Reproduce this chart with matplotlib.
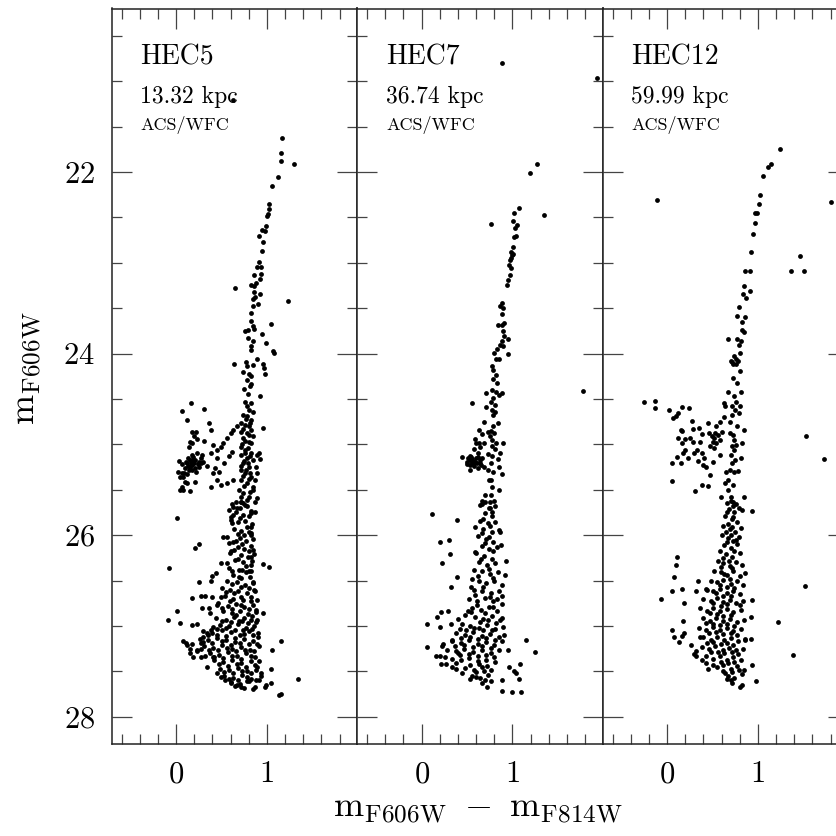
import numpy as np
import matplotlib
matplotlib.use("Agg")
import matplotlib.pyplot as plt
from matplotlib.ticker import FixedLocator, MultipleLocator

plt.rcParams['font.family'] = ['cmr10', 'DejaVu Serif']
plt.rcParams['mathtext.fontset'] = 'cm'
plt.rcParams['axes.formatter.use_mathtext'] = True

# ---------------- data (colour m606-m814, magnitude m606) ----------------
panel_names = ["HEC5", "HEC7", "HEC12"]
panel_dist = ["13.32 kpc", "36.74 kpc", "59.99 kpc"]
panel_inst = ["ACS/WFC", "ACS/WFC", "ACS/WFC"]
xtick_major = [0, 1]
ytick_major = [22, 24, 26, 28]

hec5_rgb = [
    (0.63, 21.21), (1.17, 21.63), (1.16, 21.79), (1.15, 21.88), (1.30, 21.91), (1.12, 22.06),
    (1.06, 22.15), (1.02, 22.35), (1.02, 22.41), (1.01, 22.46), (1.00, 22.48), (0.99, 22.59),
    (0.95, 22.64), (0.98, 22.65), (0.91, 22.71), (0.96, 22.77), (0.95, 22.87),
    (0.91, 22.99), (0.93, 23.05), (0.89, 23.05), (0.94, 23.12), (0.86, 23.13), (0.92, 23.18),
    (0.88, 23.22), (0.83, 23.24), (0.86, 23.26), (0.65, 23.28), (1.23, 23.42), (0.86, 23.32),
    (0.92, 23.34), (0.87, 23.38), (0.85, 23.40), (0.90, 23.45), (0.85, 23.48), (0.82, 23.55),
    (0.82, 23.64), (0.85, 23.70), (0.76, 23.75), (0.79, 23.74), (0.86, 23.73), (0.95, 23.78),
    (1.04, 23.68), (0.99, 23.88), (0.79, 23.83), (0.85, 23.86), (0.83, 23.92), (0.83, 23.96),
    (1.07, 23.97), (1.08, 23.99), (0.64, 24.11), (0.77, 24.09), (0.78, 24.14), (0.85, 24.13),
    (0.89, 24.06), (0.96, 24.11), (0.97, 24.16), (0.98, 24.22), (0.74, 24.20), (0.80, 24.22),
    (0.82, 24.25), (0.78, 24.29), (0.82, 24.33), (0.81, 24.36), (0.75, 24.39), (0.79, 24.44),
    (0.92, 24.47), (0.76, 24.53), (0.83, 24.54), (0.78, 24.58), (0.80, 24.62), (0.85, 24.64),
    (0.96, 24.82), (0.74, 24.68), (0.78, 24.69), (0.82, 24.73), (0.72, 24.77), (0.76, 24.79),
    (0.80, 24.80), (0.83, 24.84), (0.71, 24.86), (0.78, 24.88), (0.85, 24.91), (0.74, 24.93),
    (0.80, 24.97), (0.83, 24.99), (0.71, 25.03), (0.76, 25.06), (0.82, 25.10), (0.72, 25.12),
    (0.78, 25.15), (0.85, 25.17), (0.74, 25.21), (0.80, 25.25), (0.71, 25.28), (0.76, 25.32),
    (0.83, 25.36), (0.72, 25.39), (0.78, 25.43), (0.85, 25.47), (0.69, 25.50), (0.74, 25.54),
    (0.80, 25.58), (0.71, 25.63), (0.76, 25.67), (0.67, 25.70), (0.89, 25.12), (0.92, 25.16),
    (0.88, 25.25), (0.89, 25.32), (0.87, 25.39), (0.85, 25.50), (0.89, 25.59), (0.91, 25.10),
    (0.77, 24.72), (0.81, 24.77), (0.74, 24.83), (0.80, 24.90), (0.76, 24.96), (0.73, 25.00),
    (0.79, 25.04), (0.76, 25.09), (0.81, 25.13), (0.75, 25.18), (0.79, 25.20), (0.72, 25.24),
    (0.77, 25.28), (0.81, 25.31), (0.74, 25.35), (0.80, 25.38), (0.75, 25.46), (0.81, 25.52),
    (0.72, 25.58), (0.78, 25.61),
]
hec5_hb = [
    (0.16, 24.55), (0.07, 24.63), (0.31, 24.61), (0.12, 24.73), (0.36, 24.76), (0.38, 24.84),
    (0.17, 24.86), (0.22, 24.86), (0.20, 24.91), (0.23, 24.94), (0.15, 24.97), (0.31, 24.96),
    (0.18, 24.99), (0.14, 25.03), (0.03, 25.18), (0.02, 25.30), (0.06, 25.31), (0.08, 25.36),
    (0.12, 25.21), (0.15, 25.17), (0.19, 25.14), (0.23, 25.10), (0.27, 25.15), (0.30, 25.19),
    (0.17, 25.23), (0.21, 25.26), (0.14, 25.28), (0.25, 25.25), (0.10, 25.41), (0.06, 25.47),
    (0.04, 25.50), (0.08, 25.50), (0.15, 25.51), (0.21, 25.41), (0.34, 25.24), (0.38, 25.09),
    (0.28, 25.12), (0.13, 25.15), (0.17, 25.12), (0.21, 25.17), (0.25, 25.19), (0.15, 25.25),
    (0.10, 25.26), (0.04, 25.36), (0.12, 25.43), (0.41, 25.01), (0.45, 25.06), (0.49, 25.03),
    (0.52, 24.99), (0.56, 24.93), (0.60, 24.88), (0.63, 24.84), (0.67, 24.80), (0.45, 25.15),
    (0.43, 25.26), (0.47, 25.30), (0.41, 25.32), (0.45, 25.39), (0.49, 25.45), (0.38, 25.47),
    (0.56, 25.43), (0.63, 25.39), (0.53, 25.21), (0.58, 25.13), (0.61, 25.08),
    (0.11, 25.19), (0.16, 25.20), (0.20, 25.21), (0.24, 25.22), (0.13, 25.24), (0.18, 25.28),
    (0.22, 25.30), (0.09, 25.31), (0.07, 25.22), (0.12, 25.33), (0.19, 25.17), (0.27, 25.21),
]
hec5_ms = [
    (0.01, 25.81), (0.21, 26.14), (0.25, 26.10), (-0.08, 26.36), (0.01, 26.84), (-0.09, 26.93),
    (0.04, 26.97), (0.25, 26.52), (0.38, 26.50), (0.40, 26.45), (0.44, 26.42), (0.49, 26.31),
    (0.52, 26.02), (0.17, 26.69), (0.27, 26.67), (0.32, 26.67), (0.39, 26.68), (0.29, 26.80),
    (0.36, 26.80), (0.37, 26.86), (0.45, 26.77), (0.49, 26.68), (0.96, 26.32), (1.02, 26.35),
    (0.96, 26.86), (1.16, 27.17), (1.06, 27.27), (1.04, 27.47), (1.34, 27.58), (1.04, 27.63),
    (1.13, 27.76), (1.15, 27.75), (0.98, 27.67), (0.99, 27.65),
    (0.08, 27.17), (0.11, 27.19), (0.15, 27.30), (0.19, 27.34), (0.23, 27.28), (0.27, 27.19),
    (0.30, 27.12), (0.34, 27.08), (0.38, 27.04), (0.41, 27.01), (0.17, 26.99), (0.23, 26.98),
    (0.12, 27.21), (0.27, 27.34), (0.34, 27.45), (0.41, 27.34), (0.45, 27.52), (0.49, 27.56),
    (0.54, 27.59), (0.60, 27.63), (0.67, 27.65), (0.72, 27.67), (0.78, 27.61), (0.85, 27.69),
    (0.87, 27.67), (0.91, 27.59), (0.93, 27.52), (0.89, 27.45), (0.91, 27.39), (0.89, 27.20),
    (0.90, 27.08), (0.89, 26.93), (0.88, 26.82), (0.89, 26.71), (0.86, 26.60), (0.85, 26.53),
    (0.83, 26.39), (0.83, 26.24), (0.85, 26.16), (0.83, 25.98), (0.82, 25.91), (0.83, 25.76),
    (0.87, 25.74), (0.87, 25.63), (0.71, 25.63), (0.63, 25.69), (0.58, 25.72), (0.60, 25.80),
    (0.61, 25.87), (0.56, 26.02), (0.58, 26.09), (0.59, 26.20), (0.56, 26.31),
]
hec5_core = [
    (0.62, 25.66), (0.70, 25.70), (0.78, 25.68), (0.66, 25.75), (0.74, 25.78), (0.82, 25.73),
    (0.60, 25.83), (0.68, 25.86), (0.76, 25.84), (0.84, 25.88), (0.64, 25.93), (0.72, 25.95),
    (0.80, 25.97), (0.70, 26.03), (0.77, 26.06), (0.63, 26.08), (0.85, 26.04), (0.68, 26.13),
    (0.75, 26.15), (0.82, 26.12), (0.60, 26.18), (0.71, 26.22), (0.79, 26.24), (0.86, 26.21),
    (0.65, 26.27), (0.74, 26.30), (0.83, 26.33), (0.58, 26.36), (0.69, 26.38), (0.77, 26.41),
    (0.63, 26.44), (0.72, 26.47), (0.81, 26.46), (0.56, 26.50), (0.67, 26.52), (0.76, 26.55),
    (0.85, 26.52), (0.50, 26.58), (0.59, 26.60), (0.68, 26.62), (0.78, 26.64), (0.87, 26.61),
    (0.54, 26.67), (0.63, 26.70), (0.72, 26.68), (0.82, 26.72), (0.46, 26.75), (0.57, 26.78),
    (0.66, 26.76), (0.75, 26.79), (0.85, 26.77), (0.52, 26.84), (0.61, 26.86), (0.70, 26.83),
    (0.79, 26.87), (0.88, 26.85), (0.44, 26.91), (0.55, 26.93), (0.64, 26.90), (0.73, 26.95),
    (0.83, 26.93), (0.48, 26.99), (0.58, 27.00), (0.68, 26.98), (0.77, 27.02), (0.86, 27.00),
    (0.30, 27.06), (0.40, 27.08), (0.50, 27.05), (0.60, 27.07), (0.70, 27.10), (0.80, 27.06),
    (0.90, 27.12), (0.26, 27.14), (0.35, 27.15), (0.45, 27.13), (0.55, 27.16), (0.65, 27.18),
    (0.75, 27.14), (0.85, 27.17), (0.31, 27.22), (0.41, 27.24), (0.51, 27.21), (0.61, 27.25),
    (0.71, 27.23), (0.81, 27.26), (0.91, 27.22), (0.37, 27.30), (0.47, 27.32), (0.57, 27.29),
    (0.67, 27.33), (0.77, 27.30), (0.87, 27.34), (0.42, 27.38), (0.52, 27.40), (0.62, 27.37),
    (0.72, 27.41), (0.82, 27.39), (0.23, 27.27), (0.18, 27.20), (0.15, 27.25), (0.48, 27.47),
    (0.58, 27.49), (0.68, 27.46), (0.78, 27.50), (0.88, 27.48), (0.53, 27.55), (0.63, 27.57),
    (0.73, 27.54), (0.83, 27.58), (0.93, 27.55), (0.60, 27.62), (0.70, 27.64), (0.80, 27.61),
    (0.66, 25.64), (0.74, 25.65), (0.80, 25.79), (0.70, 25.81), (0.63, 25.78), (0.78, 25.91),
    (0.68, 25.99), (0.75, 26.00), (0.82, 26.00), (0.66, 26.06), (0.73, 26.10), (0.80, 26.17),
    (0.64, 26.16), (0.68, 26.26), (0.77, 26.34), (0.84, 26.28), (0.61, 26.40), (0.73, 26.38),
    (0.80, 26.40), (0.69, 26.46), (0.61, 26.54), (0.72, 26.57), (0.80, 26.58), (0.55, 26.63),
    (0.64, 26.64), (0.74, 26.71), (0.83, 26.68), (0.59, 26.72), (0.51, 26.80), (0.62, 26.81),
    (0.71, 26.77), (0.80, 26.81), (0.66, 26.88), (0.75, 26.91), (0.84, 26.89), (0.50, 26.95),
    (0.60, 26.96), (0.69, 26.94), (0.79, 26.97), (0.88, 26.96), (0.45, 27.03), (0.55, 27.02),
    (0.65, 27.04), (0.74, 27.05), (0.84, 27.03), (0.35, 27.10), (0.45, 27.10), (0.55, 27.11),
    (0.65, 27.13), (0.75, 27.09), (0.85, 27.10), (0.30, 27.18), (0.40, 27.19), (0.50, 27.17),
    (0.60, 27.21), (0.70, 27.19), (0.80, 27.20), (0.27, 27.25), (0.36, 27.26), (0.46, 27.27),
    (0.56, 27.24), (0.66, 27.28), (0.76, 27.26), (0.86, 27.28), (0.32, 27.33), (0.42, 27.34),
    (0.52, 27.35), (0.62, 27.33), (0.72, 27.36), (0.82, 27.33), (0.47, 27.42), (0.57, 27.44),
    (0.67, 27.42), (0.77, 27.45), (0.87, 27.43), (0.53, 27.51), (0.63, 27.52), (0.73, 27.50),
    (0.83, 27.52), (0.58, 27.58), (0.68, 27.60), (0.78, 27.56), (0.88, 27.60), (0.65, 27.66),
    (0.75, 27.68),
]

hec7_rgb = [
    (0.88, 20.80), (1.93, 20.96), (1.27, 21.91), (1.19, 22.01), (1.07, 22.40), (1.35, 22.47),
    (1.02, 22.45), (0.76, 22.57), (1.01, 22.54), (1.05, 22.58), (1.03, 22.62), (1.04, 22.71),
    (1.02, 22.72), (1.01, 22.83), (0.99, 22.88), (1.00, 22.91), (0.99, 22.95), (1.01, 22.90),
    (0.97, 22.97), (0.96, 23.02), (0.98, 23.06), (0.97, 23.13), (0.95, 23.19), (0.94, 23.25),
    (0.88, 23.44), (0.86, 23.48), (0.90, 23.50), (0.89, 23.56), (0.84, 23.69), (0.91, 23.66),
    (0.89, 23.69), (0.90, 23.75), (0.91, 23.81), (0.95, 23.84), (0.88, 23.86), (0.90, 23.92),
    (0.86, 23.91), (0.83, 23.95), (0.95, 24.00), (0.80, 23.99), (0.82, 24.06), (0.85, 24.06),
    (0.78, 24.14), (0.79, 24.18), (0.82, 24.24), (0.79, 24.28), (0.83, 24.32), (0.78, 24.40),
    (0.82, 24.42), (0.89, 24.43), (0.85, 24.46), (0.71, 24.43), (0.79, 24.49), (0.76, 24.53),
    (0.56, 24.54), (1.78, 24.41), (0.81, 24.57), (0.71, 24.59), (0.78, 24.62), (0.81, 24.64),
    (0.79, 24.68), (0.69, 24.75), (0.84, 24.76), (0.79, 24.80), (0.63, 24.84), (0.73, 24.86),
    (0.76, 24.85), (0.80, 24.87), (0.67, 24.89), (0.75, 24.91), (0.78, 24.95), (0.82, 24.98),
    (0.90, 24.98), (0.59, 24.94), (0.63, 24.99), (0.69, 24.99), (0.78, 25.02), (0.81, 25.05),
    (0.86, 25.09), (0.73, 25.11), (0.78, 25.13), (0.84, 25.16), (0.76, 25.20), (0.85, 25.25),
    (0.73, 25.28), (0.79, 25.30), (0.88, 25.33), (0.74, 25.39), (0.76, 25.39), (0.78, 25.47),
    (0.85, 25.50), (0.76, 25.56), (0.70, 25.56), (0.67, 25.62), (0.75, 25.63), (0.64, 25.67),
    (0.80, 25.62), (0.75, 25.70),
]
hec7_hb = [
    (0.45, 25.14), (0.51, 25.15), (0.53, 25.17), (0.54, 25.14), (0.56, 25.16), (0.58, 25.19),
    (0.60, 25.15), (0.50, 25.19), (0.56, 25.21), (0.61, 25.21), (0.64, 25.17), (0.53, 25.23),
    (0.58, 25.24), (0.65, 25.23), (0.62, 25.26), (0.53, 25.28), (0.69, 25.25), (0.67, 25.15),
    (0.62, 25.10), (0.58, 25.05), (0.60, 24.98), (0.64, 25.03), (0.55, 25.18), (0.59, 25.19),
    (0.53, 25.13), (0.62, 25.14), (0.57, 25.22), (0.50, 25.22), (0.64, 25.20),
]
hec7_ms = [
    (0.11, 25.77), (0.39, 25.83), (0.20, 26.08), (0.30, 26.05), (0.31, 26.21), (0.22, 26.31),
    (0.39, 26.46), (0.32, 26.57), (0.21, 26.85), (0.29, 26.83), (0.17, 26.90), (0.06, 26.98),
    (0.20, 27.01), (0.32, 26.98), (0.06, 27.23), (0.22, 27.22), (0.24, 27.20), (0.16, 27.33),
    (0.20, 27.33), (0.26, 27.34), (0.21, 27.42), (0.27, 27.42), (1.15, 27.16), (1.25, 27.29),
    (1.08, 27.42), (1.02, 27.50), (1.04, 27.52), (1.07, 27.58), (0.96, 27.45), (0.89, 27.72),
    (1.00, 27.73), (1.09, 27.73), (0.88, 27.59), (0.72, 27.67), (0.76, 27.61), (0.60, 27.56),
    (0.53, 27.58), (0.45, 27.52), (0.38, 27.47), (0.34, 27.45), (0.86, 25.96), (0.93, 26.28),
    (0.92, 26.44), (0.88, 26.67), (0.89, 26.91), (0.91, 27.10), (0.95, 27.26), (0.87, 26.11),
    (0.59, 25.91), (0.59, 26.19), (0.54, 26.57), (0.51, 26.84), (0.40, 26.92), (0.42, 27.03),
    (0.34, 27.15), (0.40, 27.30),
]
hec7_core = [
    (0.66, 25.66), (0.74, 25.70), (0.81, 25.68), (0.70, 25.76), (0.78, 25.79), (0.64, 25.84),
    (0.73, 25.87), (0.81, 25.85), (0.68, 25.93), (0.77, 25.96), (0.85, 25.94), (0.62, 26.01),
    (0.71, 26.04), (0.79, 26.07), (0.66, 26.12), (0.74, 26.15), (0.83, 26.13), (0.60, 26.20),
    (0.69, 26.23), (0.77, 26.26), (0.63, 26.30), (0.72, 26.33), (0.81, 26.31), (0.58, 26.38),
    (0.67, 26.40), (0.75, 26.43), (0.84, 26.41), (0.55, 26.48), (0.63, 26.50), (0.71, 26.53),
    (0.80, 26.51), (0.88, 26.55), (0.58, 26.60), (0.67, 26.62), (0.76, 26.64), (0.85, 26.61),
    (0.52, 26.70), (0.61, 26.72), (0.70, 26.69), (0.79, 26.73), (0.88, 26.76), (0.56, 26.80),
    (0.65, 26.82), (0.74, 26.79), (0.83, 26.83), (0.48, 26.88), (0.59, 26.90), (0.68, 26.92),
    (0.77, 26.89), (0.86, 26.93), (0.44, 26.98), (0.53, 27.00), (0.63, 27.02), (0.72, 26.99),
    (0.81, 27.03), (0.90, 27.01), (0.38, 27.08), (0.48, 27.10), (0.57, 27.07), (0.66, 27.11),
    (0.75, 27.09), (0.85, 27.12), (0.33, 27.17), (0.43, 27.19), (0.52, 27.16), (0.62, 27.20),
    (0.71, 27.18), (0.80, 27.21), (0.89, 27.17), (0.28, 27.26), (0.38, 27.28), (0.47, 27.25),
    (0.57, 27.29), (0.66, 27.27), (0.76, 27.30), (0.85, 27.26), (0.33, 27.36), (0.43, 27.38),
    (0.52, 27.35), (0.62, 27.39), (0.71, 27.37), (0.81, 27.40), (0.48, 27.46), (0.58, 27.48),
    (0.67, 27.45), (0.76, 27.49), (0.55, 27.55), (0.64, 27.57), (0.73, 27.54), (0.66, 27.63),
    (0.70, 25.64), (0.77, 25.74), (0.68, 25.82), (0.75, 25.90), (0.66, 25.98), (0.74, 26.02),
    (0.70, 26.09), (0.79, 26.18), (0.65, 26.26), (0.74, 26.37), (0.62, 26.45), (0.79, 26.47),
    (0.68, 26.57), (0.59, 26.66), (0.75, 26.68), (0.83, 26.70), (0.61, 26.77), (0.70, 26.86),
    (0.79, 26.79), (0.54, 26.85), (0.64, 26.96), (0.73, 26.93), (0.82, 26.97), (0.49, 27.04),
    (0.58, 27.02), (0.68, 27.05), (0.77, 27.05), (0.43, 27.13), (0.53, 27.12), (0.62, 27.14),
    (0.71, 27.13), (0.81, 27.15), (0.37, 27.22), (0.47, 27.21), (0.57, 27.23), (0.66, 27.22),
    (0.76, 27.24), (0.42, 27.32), (0.52, 27.31), (0.62, 27.33), (0.71, 27.32), (0.80, 27.34),
    (0.38, 27.41), (0.53, 27.43), (0.63, 27.42), (0.72, 27.44), (0.60, 27.51), (0.69, 27.50),
    (0.70, 27.59),
]

hec12_rgb = [
    (1.24, 21.75), (1.14, 21.91), (1.11, 21.95), (1.06, 22.04), (-0.11, 22.31), (1.81, 22.33),
    (1.02, 22.25), (1.01, 22.35), (0.97, 22.45), (0.99, 22.45), (0.97, 22.56), (0.95, 22.68),
    (0.92, 22.88), (1.46, 22.93), (0.86, 23.09), (0.91, 23.09), (1.36, 23.09), (1.51, 23.09),
    (0.85, 23.26), (0.84, 23.34), (0.91, 23.31), (0.87, 23.39), (0.79, 23.49), (0.77, 23.59),
    (0.83, 23.65), (0.86, 23.60), (0.82, 23.74), (0.85, 23.76), (0.67, 23.84), (0.77, 23.84),
    (0.81, 23.86), (0.79, 23.91), (0.80, 23.99), (0.71, 24.09), (0.74, 24.03), (0.76, 24.06),
    (0.73, 24.11), (0.78, 24.08), (0.70, 24.08), (0.76, 24.11), (0.80, 24.19), (0.73, 24.27),
    (0.77, 24.32), (0.67, 24.42), (0.81, 24.42), (0.74, 24.47), (0.76, 24.53), (0.63, 24.54),
    (0.71, 24.58), (0.80, 24.58), (0.64, 24.58), (0.75, 24.62), (0.79, 24.65), (0.72, 24.68),
    (0.69, 24.75), (0.63, 24.70), (0.77, 24.80), (0.85, 24.84), (0.69, 24.87), (0.73, 24.90),
    (0.74, 24.95), (0.71, 25.02), (0.76, 25.01), (0.74, 25.06), (0.70, 25.12), (0.75, 25.17),
    (0.72, 25.21), (0.69, 25.28), (0.74, 25.30), (0.65, 25.30), (0.67, 25.39), (0.73, 25.45),
    (0.64, 25.43), (0.67, 25.50), (0.70, 25.58), (0.66, 25.65), (0.73, 25.68), (0.82, 24.99),
    (0.81, 25.15), (0.78, 25.29), (0.85, 25.58), (1.53, 24.91), (1.73, 25.16),
]
hec12_hb = [
    (-0.26, 24.53), (-0.13, 24.52), (-0.13, 24.60), (0.16, 24.59), (0.24, 24.60), (0.02, 24.62),
    (0.12, 24.65), (0.10, 24.69), (0.06, 24.71), (0.27, 24.74), (0.58, 24.75), (0.54, 24.80),
    (0.45, 24.77), (0.35, 24.82), (0.29, 24.83), (0.16, 24.85), (0.38, 24.89), (0.46, 24.87),
    (0.49, 24.91), (0.52, 24.93), (0.51, 24.97), (0.54, 24.99), (0.47, 25.02), (0.52, 25.04),
    (0.56, 24.90), (0.60, 24.86), (0.58, 24.95), (0.53, 24.88), (0.15, 24.84), (0.12, 24.93),
    (0.20, 24.94), (0.25, 24.93), (0.16, 24.99), (0.36, 24.97), (0.28, 24.97), (0.20, 25.06),
    (0.18, 25.10), (0.23, 25.15), (0.30, 25.10), (0.33, 25.06), (0.38, 25.10), (0.41, 25.15),
    (0.11, 25.14), (0.05, 25.20), (0.15, 25.20), (0.34, 25.18), (0.40, 25.23), (0.43, 25.25),
    (0.50, 25.19), (0.58, 25.12), (0.47, 25.34), (0.05, 25.40), (0.31, 25.51), (0.38, 25.45),
    (0.45, 25.46), (0.59, 25.58),
]
hec12_ms = [
    (0.11, 26.24), (0.10, 26.33), (0.08, 26.46), (-0.07, 26.70), (0.05, 26.62), (0.16, 26.59),
    (0.19, 26.75), (0.34, 26.51), (0.32, 26.61), (0.43, 26.59), (0.17, 26.94), (0.05, 27.04),
    (0.08, 27.12), (0.13, 27.18), (0.16, 27.11), (0.19, 27.08), (0.26, 27.21), (0.30, 27.31),
    (0.32, 27.28), (0.32, 27.33), (0.36, 27.12), (1.52, 26.56), (1.22, 26.96), (1.39, 27.32),
    (0.98, 27.61), (0.94, 25.73), (0.82, 25.72), (0.94, 26.71), (0.92, 26.90), (0.92, 27.14),
    (0.93, 27.43), (0.86, 26.42), (0.86, 27.15), (0.80, 27.67), (0.82, 27.65), (0.72, 27.63),
    (0.66, 27.58), (0.64, 27.52), (0.45, 27.47), (0.51, 27.43), (0.43, 27.41), (0.38, 27.37),
]
hec12_core = [
    (0.70, 25.62), (0.76, 25.66), (0.68, 25.71), (0.74, 25.75), (0.79, 25.70), (0.64, 25.79),
    (0.71, 25.82), (0.77, 25.86), (0.62, 25.90), (0.69, 25.93), (0.75, 25.96), (0.81, 25.92),
    (0.60, 26.00), (0.67, 26.03), (0.73, 26.06), (0.79, 26.02), (0.63, 26.11), (0.70, 26.14),
    (0.77, 26.10), (0.58, 26.18), (0.65, 26.21), (0.72, 26.24), (0.80, 26.20), (0.56, 26.29),
    (0.62, 26.31), (0.69, 26.34), (0.76, 26.30), (0.83, 26.33), (0.52, 26.39), (0.59, 26.41),
    (0.66, 26.44), (0.73, 26.40), (0.80, 26.45), (0.48, 26.50), (0.55, 26.52), (0.62, 26.49),
    (0.70, 26.54), (0.77, 26.51), (0.84, 26.55), (0.44, 26.60), (0.51, 26.62), (0.58, 26.59),
    (0.66, 26.64), (0.73, 26.61), (0.80, 26.65), (0.40, 26.70), (0.48, 26.72), (0.55, 26.69),
    (0.62, 26.74), (0.69, 26.71), (0.76, 26.75), (0.84, 26.72), (0.36, 26.80), (0.44, 26.83),
    (0.51, 26.80), (0.58, 26.84), (0.66, 26.81), (0.73, 26.85), (0.81, 26.82), (0.39, 26.91),
    (0.47, 26.94), (0.54, 26.91), (0.62, 26.95), (0.69, 26.92), (0.77, 26.96), (0.85, 26.93),
    (0.35, 27.02), (0.43, 27.04), (0.50, 27.01), (0.58, 27.05), (0.66, 27.02), (0.73, 27.06),
    (0.81, 27.03), (0.40, 27.12), (0.48, 27.15), (0.55, 27.12), (0.63, 27.16), (0.70, 27.13),
    (0.78, 27.17), (0.86, 27.14), (0.38, 27.23), (0.46, 27.25), (0.53, 27.22), (0.61, 27.26),
    (0.68, 27.24), (0.76, 27.27), (0.84, 27.25), (0.43, 27.33), (0.51, 27.36), (0.58, 27.33),
    (0.66, 27.37), (0.73, 27.34), (0.81, 27.38), (0.55, 27.45), (0.62, 27.43), (0.70, 27.47),
    (0.77, 27.44), (0.85, 27.48), (0.67, 27.55), (0.74, 27.57), (0.82, 27.53),
    (0.73, 25.64), (0.66, 25.75), (0.73, 25.80), (0.67, 25.88), (0.72, 25.91), (0.65, 25.97),
    (0.70, 26.00), (0.76, 26.05), (0.66, 26.08), (0.74, 26.18), (0.61, 26.25), (0.68, 26.28),
    (0.59, 26.35), (0.72, 26.36), (0.63, 26.43), (0.69, 26.48), (0.58, 26.55), (0.66, 26.57),
    (0.74, 26.58), (0.54, 26.64), (0.62, 26.67), (0.70, 26.67), (0.51, 26.75), (0.59, 26.78),
    (0.66, 26.76), (0.80, 26.77), (0.47, 26.86), (0.55, 26.87), (0.62, 26.89), (0.70, 26.88),
    (0.43, 26.97), (0.51, 26.98), (0.58, 26.99), (0.66, 26.98), (0.74, 27.00), (0.46, 27.08),
    (0.54, 27.07), (0.62, 27.09), (0.70, 27.08), (0.77, 27.10), (0.44, 27.19), (0.51, 27.18),
    (0.59, 27.20), (0.66, 27.19), (0.73, 27.21), (0.48, 27.29), (0.56, 27.29), (0.63, 27.30),
    (0.71, 27.29), (0.78, 27.31), (0.59, 27.40), (0.67, 27.41), (0.74, 27.40), (0.62, 27.50),
    (0.71, 27.51), (0.79, 27.49), (0.70, 27.60),
]

panel_data = [
    [hec5_rgb, hec5_hb, hec5_ms, hec5_core],
    [hec7_rgb, hec7_hb, hec7_ms, hec7_core],
    [hec12_rgb, hec12_hb, hec12_ms, hec12_core],
]

# ---------------- figure ----------------
W, H = 837, 836
fig = plt.figure(figsize=(W / 100, H / 100), dpi=100)

ax_left = 111.7 / W
ax_w = 245.5 / W
ax_bottom = 1 - 744 / H
ax_h = (744 - 8.5) / H

tick_col = '#444444'
for i in range(3):
    ax = fig.add_axes([ax_left + i * ax_w, ax_bottom, ax_w, ax_h])
    for grp in panel_data[i]:
        arr = np.array(grp)
        ax.scatter(arr[:, 0], arr[:, 1], s=12, c='black', linewidths=0, zorder=3)
    ax.set_xlim(-0.71, 1.995)
    ax.set_ylim(28.3, 20.2)
    ax.xaxis.set_major_locator(FixedLocator(xtick_major))
    ax.xaxis.set_minor_locator(MultipleLocator(0.2))
    ax.yaxis.set_major_locator(FixedLocator(ytick_major))
    ax.yaxis.set_minor_locator(MultipleLocator(0.5))
    ax.tick_params(which='both', direction='in', top=True, right=True,
                   color=tick_col, width=0.9)
    ax.tick_params(which='major', length=14.5, pad=12, labelsize=22)
    ax.tick_params(which='minor', length=7.2)
    if i > 0:
        ax.tick_params(labelleft=False)
    for sp in ax.spines.values():
        sp.set_linewidth(1.1)
        sp.set_color('#222222')
    ax.text(0.117, 0.933, panel_names[i], transform=ax.transAxes,
            fontsize=20, ha='left', va='center')
    ax.text(0.117, 0.880, panel_dist[i], transform=ax.transAxes,
            fontsize=17, ha='left', va='center')
    ax.text(0.117, 0.842, panel_inst[i], transform=ax.transAxes,
            fontsize=13, ha='left', va='center')

fig.text(478 / W, 1 - 810 / H,
         r'$\mathrm{m}_{\mathrm{F606W}}\ -\ \mathrm{m}_{\mathrm{F814W}}$',
         fontsize=26, ha='center', va='center')
fig.text(28 / W, 1 - 368 / H, r'$\mathrm{m}_{\mathrm{F606W}}$',
         fontsize=26, ha='center', va='center', rotation=90)

fig.savefig('out.png', dpi=100)
